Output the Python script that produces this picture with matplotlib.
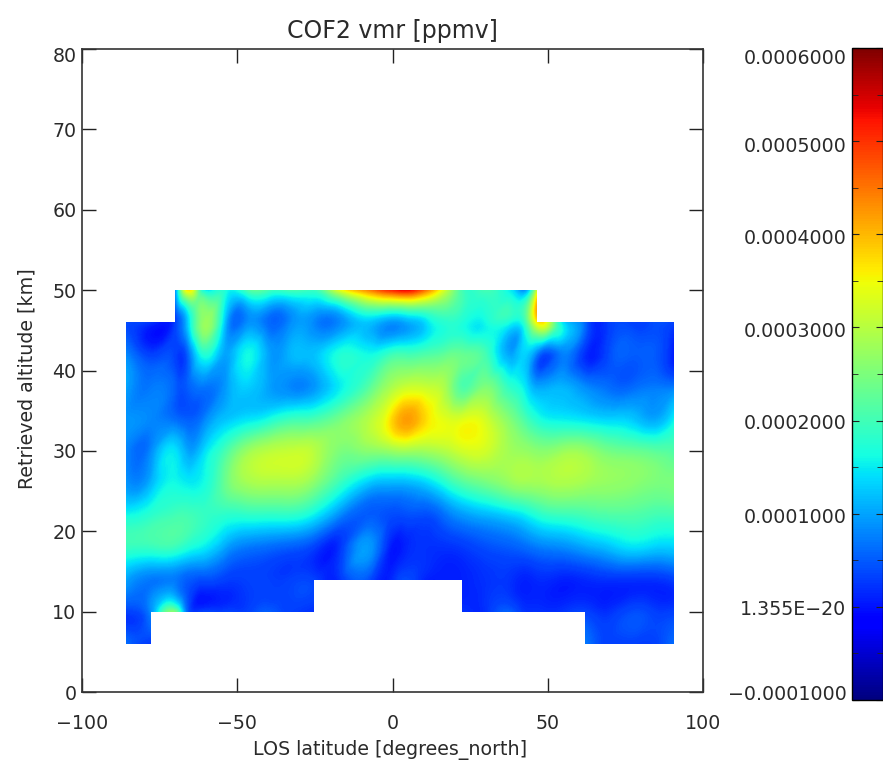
import numpy as np
import matplotlib
matplotlib.use('Agg')
import matplotlib.pyplot as plt
import matplotlib.tri as mtri
from matplotlib.cm import ScalarMappable
from matplotlib.colors import Normalize
from matplotlib.ticker import MultipleLocator
from matplotlib.transforms import ScaledTranslation

nan = np.nan

lats = [-85.8, -77.8, -69.8, -66, -61, -54, -47, -40, -33, -25.3, -17, -7, -1, 4,
        11, 18, 22.4, 30, 38, 43, 46.5, 54, 62.3, 70, 78, 84, 90.6]
alts = [6, 10, 14, 18, 22, 26, 30, 34, 38, 42, 46, 50]

# vmr in units of 1e-4 ppmv, one list per altitude
alt_06 = [0.6, 0.2, nan, nan, nan, nan, nan, nan, nan, nan, nan, nan, nan, nan,
          nan, nan, nan, nan, nan, nan, nan, nan, 0.7, 0.3, 0.3, 0.3, 0.6]
alt_10 = [0.3, 0.8, 2.4, 0.5, 0.3, 0.3, 0.3, 0.5, 0.3, 0.2, nan, nan, nan, nan,
          nan, nan, 0.2, 0.2, 0.5, 0.2, 0.2, 0.2, 0.3, 0.2, 0.4, 0.3, 0.3]
alt_14 = [1.0, 0.7, 0.7, 0.5, 0.4, 0.3, 0.3, 0.3, 0.3, 0.3, 0.2, 0.35, 0.1, 0.4,
          0.1, 0.1, 0.1, 0.2, 0.2, 0.1, 0.15, 0.1, 0.15, 0.2, 0.2, 0.2, 0.3]
alt_18 = [1.9, 1.9, 1.9, 1.7, 1.5, 1.0, 0.7, 0.6, 0.5, 0.3, 0.2, 0.9, 0.1, 0.1,
          0.2, 0.2, 0.25, 0.4, 0.5, 0.6, 0.7, 0.8, 1.0, 1.2, 1.4, 1.3, 1.3]
alt_22 = [1.6, 1.8, 2.0, 2.0, 1.9, 1.8, 1.8, 1.8, 1.8, 1.5, 0.8, 0.5, 0.4, 0.4,
          0.4, 0.7, 0.9, 1.1, 1.3, 1.5, 1.7, 1.9, 2.0, 2.1, 2.1, 2.0, 2.0]
alt_26 = [0.9, 1.1, 1.6, 1.5, 1.6, 2.3, 2.8, 2.9, 2.9, 2.6, 1.9, 1.2, 1.1, 1.1,
          1.3, 1.8, 2.1, 2.4, 2.7, 2.8, 2.8, 2.9, 2.8, 2.7, 2.6, 2.5, 2.5]
alt_30 = [0.8, 0.8, 1.4, 1.0, 1.3, 2.0, 2.7, 3.0, 3.1, 3.0, 2.5, 2.6, 2.7, 2.8,
          2.8, 3.0, 3.2, 3.2, 2.8, 2.7, 2.6, 2.7, 2.7, 2.4, 2.3, 2.2, 2.1]
alt_34 = [0.9, 0.8, 0.6, 0.5, 0.7, 1.2, 1.4, 1.6, 1.9, 2.0, 2.4, 3.0, 3.6, 4.2,
          3.7, 3.3, 3.3, 3.2, 2.5, 2.0, 1.7, 1.5, 1.4, 1.3, 1.2, 1.0, 1.5]
alt_38 = [1.0, 0.7, 0.5, 0.5, 0.7, 0.9, 1.3, 1.0, 0.8, 0.9, 1.5, 2.2, 2.8, 3.1,
          3.1, 2.7, 2.1, 2.5, 1.8, 1.4, 1.0, 1.1, 0.8, 0.6, 0.6, 0.7, 0.7]
alt_42 = [0.8, 0.3, 0.3, 0.5, 1.7, 1.0, 1.6, 1.0, 1.1, 1.2, 1.7, 1.6, 1.9, 2.0,
          2.1, 2.3, 2.3, 2.0, 1.0, 1.3, 0.7, 0.7, 0.15, 0.4, 0.5, 0.5, 0.05]
alt_46 = [0.4, 0.2, 0.3, 1.2, 2.7, 1.2, 0.8, 0.6, 0.8, 0.8, 0.8, 1.2, 0.9, 1.0,
          1.4, 1.8, 1.7, 1.6, 1.6, 2.0, 3.5, 1.6, 0.5, 0.3, 0.3, 0.4, 0.3]
alt_50 = [nan, nan, 0.9, 3.6, 1.6, 1.7, 2.0, 2.0, 2.0, 1.9, 3.3, 4.4, 5.0, 5.3,
          4.4, 2.9, 2.0, 2.0, 1.5, 0.9, 3.0, nan, nan, nan, nan, nan, nan]

rows = [alt_06, alt_10, alt_14, alt_18, alt_22, alt_26, alt_30, alt_34, alt_38, alt_42, alt_46, alt_50]

cbar_ticks = [-0.0001, 0, 0.0001, 0.0002, 0.0003, 0.0004, 0.0005, 0.0006]
cbar_labels = ['\u22120.0001000', '1.355E\u221220', '0.0001000', '0.0002000',
               '0.0003000', '0.0004000', '0.0005000', '0.0006000']

TXT = '#2a2a2a'
FS = 13.7

def smooth_field(lats, alts, rows):
    # triangles only where a grid cell has all four corners, then a cubic refine
    vals = np.array(rows) * 1e-4
    lon2d, alt2d = np.meshgrid(lats, alts)
    nr, nc = vals.shape
    ok = np.isfinite(vals)
    idx = -np.ones(vals.shape, dtype=int)
    idx[ok] = np.arange(ok.sum())
    tris = []
    for j in range(nr - 1):
        for i in range(nc - 1):
            if ok[j, i] and ok[j, i+1] and ok[j+1, i] and ok[j+1, i+1]:
                tris.append([idx[j, i], idx[j, i+1], idx[j+1, i+1]])
                tris.append([idx[j, i], idx[j+1, i+1], idx[j+1, i]])
    tri = mtri.Triangulation(lon2d[ok], alt2d[ok], tris)
    return mtri.UniformTriRefiner(tri).refine_field(vals[ok], subdiv=3)

W, H = 883., 765.
plt.rcParams['font.family'] = 'DejaVu Sans'
fig = plt.figure(figsize=(8.83, 7.65), dpi=100)
ax = fig.add_axes([82/W, 1-692/H, (703-82)/W, (692-49)/H])
cax = fig.add_axes([852/W, 1-700/H, 31/W, (700-48)/H])

tri_fine, z_fine = smooth_field(lats, alts, rows)
levels = np.linspace(-0.0001, 0.0006, 281)
ax.tricontourf(tri_fine, z_fine, levels=levels, cmap='jet', extend='both', antialiased=False)
ax.set_xlim(-100, 100)
ax.set_ylim(0, 80)
ax.set_xticks([-100, -50, 0, 50, 100])
ax.set_xticklabels(['\u2212100', '\u221250', '0', '50', '100'])
ax.set_yticks(range(0, 81, 10))
ax.tick_params(direction='in', length=10, width=1, top=True, right=True, labelsize=FS, labelcolor=TXT, color='#222222')
ax.tick_params(axis='x', pad=16)
ax.tick_params(axis='y', pad=4)
for s in ax.spines.values():
    s.set_linewidth(1.2)
    s.set_color('#333333')
ax.set_xlabel('LOS latitude [degrees_north]', fontsize=FS, color=TXT, va='center')
ax.xaxis.set_label_coords(0.496, -0.09)
ax.set_ylabel('Retrieved altitude [km]', fontsize=FS, color=TXT, va='center')
ax.yaxis.set_label_coords(-0.0886, 0.488)
ax.set_title('COF2 vmr [ppmv]', fontsize=17, color=TXT, pad=8)

# top label sits below its tick in the original
lab = ax.get_yticklabels()[-1]
lab.set_transform(lab.get_transform() + ScaledTranslation(0, -6/100, fig.dpi_scale_trans))

sm = ScalarMappable(norm=Normalize(-0.0001, 0.0006), cmap='jet')
cb = fig.colorbar(sm, cax=cax)
cb.set_ticks(cbar_ticks)
cb.set_ticklabels(cbar_labels)
cb.outline.set_linewidth(1)
cax.tick_params(which='both', left=True, right=True, labelleft=True, labelright=False, direction='in', color='#222222')
cax.tick_params(which='major', length=5, labelsize=FS, labelcolor=TXT, pad=4)
cax.yaxis.set_minor_locator(MultipleLocator(0.00005))
cax.tick_params(which='minor', length=4)

# px shifts of the colour bar labels, bottom to top
shifts = [7, -1, -2, -1, -2, -2, -3, -9]
for lab, dy in zip(cax.get_yticklabels(), shifts):
    lab.set_transform(lab.get_transform() + ScaledTranslation(0, dy/100, fig.dpi_scale_trans))

fig.savefig('out.png', dpi=100)
